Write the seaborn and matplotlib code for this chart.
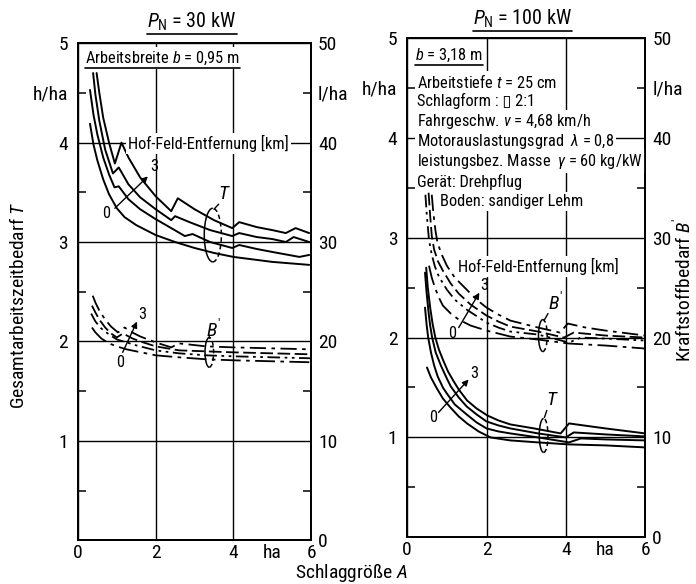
import seaborn as sns
import matplotlib.pyplot as plt
from matplotlib.patches import Arc
from matplotlib.lines import Line2D
from matplotlib import font_manager

# Hof-Feld-Entfernung in km
km = ['0', '1', '2', '3']

# P_N = 30 kW: Gesamtarbeitszeitbedarf T [h/ha] over Schlaggroesse A [ha]
t30_x = {
    '3': [0.48, 0.55, 0.65, 0.8, 0.95, 1.12, 1.3, 1.6, 2.0, 2.4, 2.57, 3.0, 3.5, 3.97, 4.15, 4.6, 5.0, 5.35, 5.6, 5.95],
    '2': [0.39, 0.45, 0.55, 0.7, 0.9, 1.05, 1.3, 1.6, 2.0, 2.4, 2.5, 2.87, 3.4, 3.97, 4.15, 4.6, 5.0, 5.35, 5.55, 5.95],
    '1': [0.31, 0.4, 0.5, 0.65, 0.8, 0.94, 1.05, 1.3, 1.6, 2.0, 2.4, 2.75, 2.95, 3.4, 3.97, 4.15, 4.6, 5.0, 5.7, 5.95],
    '0': [0.31, 0.4, 0.5, 0.65, 0.8, 1.0, 1.2, 1.5, 2.0, 2.5, 3.0, 3.5, 4.0, 5.0, 5.95],
}
t30_y = {
    '3': [4.70, 4.50, 4.25, 4.00, 3.79, 4.00, 3.85, 3.65, 3.46, 3.31, 3.44, 3.33, 3.22, 3.14, 3.20, 3.15, 3.12, 3.09, 3.14, 3.09],
    '2': [4.70, 4.48, 4.22, 3.93, 3.69, 3.75, 3.58, 3.45, 3.33, 3.22, 3.26, 3.20, 3.12, 3.06, 3.09, 3.05, 3.03, 3.00, 3.05, 3.00],
    '1': [4.53, 4.28, 4.08, 3.85, 3.68, 3.55, 3.56, 3.43, 3.33, 3.23, 3.14, 3.06, 3.08, 3.00, 2.94, 2.97, 2.93, 2.90, 2.85, 2.87],
    '0': [4.19, 3.98, 3.82, 3.63, 3.48, 3.34, 3.25, 3.17, 3.07, 3.00, 2.94, 2.89, 2.85, 2.80, 2.77],
}

# P_N = 30 kW: Kraftstoffbedarf B' [l/ha]
b30_x = {
    '3': [0.38, 0.45, 0.55, 0.7, 0.85, 1.03, 1.2, 1.4, 1.6, 2.0, 2.4, 2.6, 3.3, 4.0, 5.0, 6.0],
    '2': [0.36, 0.45, 0.55, 0.7, 0.85, 1.0, 1.16, 1.4, 1.6, 2.0, 2.6, 3.3, 4.0, 5.0, 6.0],
    '1': [0.34, 0.45, 0.6, 0.8, 1.0, 1.25, 1.5, 2.0, 2.6, 3.3, 4.0, 5.0, 6.0],
    '0': [0.36, 0.45, 0.6, 0.8, 1.0, 1.25, 1.5, 2.0, 2.6, 3.3, 4.0, 5.0, 6.0],
}
b30_y = {
    '3': [24.6, 23.9, 23.1, 22.2, 21.5, 20.9, 21.4, 20.9, 20.5, 19.9, 19.4, 19.8, 19.5, 19.4, 19.3, 19.2],
    '2': [23.6, 22.9, 22.2, 21.4, 20.8, 20.4, 20.8, 20.3, 20.0, 19.5, 19.1, 19.0, 18.9, 18.8, 18.7],
    '1': [22.8, 22.0, 21.3, 20.7, 20.2, 19.9, 19.6, 19.1, 18.8, 18.6, 18.5, 18.4, 18.3],
    '0': [21.4, 20.9, 20.3, 19.8, 19.5, 19.2, 19.0, 18.6, 18.4, 18.2, 18.1, 18.0, 17.9],
}

# P_N = 100 kW: T [h/ha]
t100_x = {
    '3': [0.48, 0.52, 0.58, 0.64, 0.71, 0.8, 0.91, 1.03, 1.16, 1.3, 1.51, 1.75, 2.02, 2.3, 2.6, 3.2, 3.87, 4.08, 5.0, 6.0],
    '2': [0.45, 0.49, 0.54, 0.58, 0.63, 0.72, 0.85, 1.0, 1.1, 1.3, 1.5, 1.75, 2.0, 2.3, 2.6, 3.3, 4.0, 4.2, 5.0, 6.0],
    '1': [0.45, 0.49, 0.53, 0.6, 0.68, 0.77, 0.9, 1.0, 1.2, 1.5, 1.75, 2.0, 2.3, 2.6, 3.3, 4.08, 4.38, 5.0, 6.0],
    '0': [0.5, 0.6, 0.75, 0.9, 1.09, 1.3, 1.51, 1.8, 2.1, 2.6, 3.3, 4.08, 5.0, 6.0],
}
t100_y = {
    '3': [2.70, 2.50, 2.30, 2.14, 2.00, 1.88, 1.77, 1.66, 1.57, 1.48, 1.37, 1.29, 1.22, 1.17, 1.13, 1.09, 1.04, 1.14, 1.09, 1.04],
    '2': [2.65, 2.45, 2.25, 2.12, 2.00, 1.85, 1.72, 1.59, 1.51, 1.40, 1.31, 1.23, 1.16, 1.12, 1.09, 1.04, 1.00, 1.05, 1.03, 1.01],
    '1': [2.30, 2.13, 2.00, 1.85, 1.72, 1.61, 1.50, 1.44, 1.33, 1.23, 1.15, 1.09, 1.06, 1.04, 1.00, 0.95, 0.99, 0.98, 0.97],
    '0': [1.70, 1.60, 1.49, 1.39, 1.30, 1.21, 1.14, 1.06, 1.00, 0.97, 0.95, 0.93, 0.92, 0.90],
}

# P_N = 100 kW: B' [l/ha]
b100_x = {
    '3': [0.62, 0.66, 0.71, 0.76, 0.85, 1.0, 1.2, 1.5, 1.75, 2.0, 2.3, 2.6, 3.3, 3.85, 4.05, 4.5, 5.0, 6.0],
    '2': [0.54, 0.58, 0.62, 0.68, 0.78, 0.9, 1.1, 1.3, 1.6, 2.0, 2.3, 2.6, 3.3, 3.95, 4.2, 5.0, 6.0],
    '1': [0.46, 0.5, 0.55, 0.62, 0.7, 0.8, 1.0, 1.2, 1.5, 2.0, 2.3, 2.6, 3.3, 4.08, 4.38, 5.0, 6.0],
    '0': [0.55, 0.62, 0.7, 0.8, 0.9, 1.1, 1.3, 1.6, 2.0, 2.6, 3.3, 4.08, 5.0, 6.0],
}
b100_y = {
    '3': [34.3, 32.5, 30.8, 29.6, 28.5, 27.2, 26.0, 24.8, 23.8, 23.0, 22.3, 21.7, 21.0, 20.5, 21.4, 21.0, 20.7, 20.2],
    '2': [34.5, 32.2, 30.2, 28.8, 27.6, 26.7, 25.4, 24.4, 23.3, 22.2, 21.6, 21.1, 20.6, 20.0, 20.5, 20.2, 20.0],
    '1': [34.3, 32.0, 29.8, 28.3, 27.1, 26.1, 24.8, 23.8, 22.8, 21.5, 21.0, 20.6, 20.3, 19.5, 20.0, 19.9, 19.7],
    '0': [27.2, 26.0, 25.0, 24.0, 23.2, 22.4, 21.8, 21.2, 20.7, 20.1, 19.8, 19.4, 19.2, 18.9],
}

b_dashes = {
    '3': (0, (9, 3, 2, 3)),
    '2': (0, (7, 2.5)),
    '1': (0, (7, 2.5, 1.5, 2.5, 1.5, 2.5)),
    '0': (0, (11, 3, 2, 3)),
}

sns.set_style("white", {"axes.edgecolor": "black", "text.color": "black",
                        "xtick.color": "black", "ytick.color": "black",
                        "axes.labelcolor": "black"})
# narrow DIN-like lettering of the original: take the narrowest family available
avail = {f.name for f in font_manager.fontManager.ttflist}
base = next((f for f in ['Liberation Sans Narrow', 'DejaVu Sans Condensed', 'Roboto Condensed',
                         'Liberation Sans', 'Roboto'] if f in avail), 'DejaVu Sans')
plt.rcParams['font.family'] = [base, 'DejaVu Sans']
plt.rcParams['mathtext.fontset'] = 'custom'
plt.rcParams['mathtext.rm'] = base
plt.rcParams['mathtext.it'] = base + ':italic'

fig = plt.figure(figsize=(6.96, 5.84), dpi=100)
ax_l = fig.add_axes([0.112, 0.075, 0.335, 0.851])
ax_r = fig.add_axes([0.585, 0.080, 0.342, 0.855])

TICK = 14
TXT = 11.8


def setup(ax):
    ax.set_xlim(0, 6)
    ax.set_ylim(0, 5)
    ax.set_xticks([0, 2, 4, 6])
    ax.set_xticks([1, 3, 5], labels=['', '', 'ha'], minor=True)
    ax.set_yticks([0, 1, 2, 3, 4, 5], labels=['', '1', '2', '3', '4', '5'])
    ax.set_yticks([0.5, 1.5, 2.5, 3.5, 4.5], labels=['', '', '', '', 'h/ha'], minor=True)
    ax.tick_params(which='major', length=0, labelsize=TICK, pad=7)
    ax.tick_params(which='minor', direction='in', length=6, width=1.1, labelsize=TICK, pad=7)
    ax.tick_params(axis='x', which='both', pad=3)
    ax.grid(True, which='major', color='black', lw=1.0)
    ax.set_axisbelow(True)
    for s in ax.spines.values():
        s.set_linewidth(1.3)
    ax2 = ax.twinx()
    ax2.set_ylim(0, 50)
    ax2.set_yticks(range(0, 51, 10))
    ax2.set_yticks([5, 15, 25, 35, 45], labels=['', '', '', '', 'l/ha'], minor=True)
    ax2.tick_params(which='major', length=0, labelsize=TICK, pad=5)
    ax2.tick_params(which='minor', direction='in', length=6, width=1.1, labelsize=TICK, pad=5)
    ax2.grid(False)
    for s in ax2.spines.values():
        s.set_linewidth(1.3)
    return ax2


def curves(ax, ax2, tx, ty, bx, by):
    for k in km:
        sns.lineplot(x=tx[k], y=ty[k], ax=ax, color='black', lw=1.4, sort=False)
        sns.lineplot(x=bx[k], y=by[k], ax=ax2, color='black', lw=1.3,
                     linestyle=b_dashes[k], sort=False)


def ellipse(ax, cx, cy, w, h):
    ax.add_patch(Arc((cx, cy), w, h, theta1=90, theta2=270, color='black', lw=1.1))
    ax.add_patch(Arc((cx, cy), w, h, theta1=270, theta2=90, color='black', lw=1.1,
                     linestyle=(0, (3, 2))))


def arrow(ax, p0, p1):
    ax.annotate('', xy=p1, xytext=p0,
                arrowprops=dict(arrowstyle='-|>', color='black', lw=1.0,
                                mutation_scale=9, shrinkA=0, shrinkB=0))


def leader(ax, p0, p1):
    ax.annotate('', xy=p1, xytext=p0,
                arrowprops=dict(arrowstyle='-', color='black', lw=1.0, shrinkA=0, shrinkB=0))


white = dict(facecolor='white', edgecolor='none', pad=1.5)

# ---- left panel, 30 kW
l2 = setup(ax_l)
curves(ax_l, l2, t30_x, t30_y, b30_x, b30_y)
t_arb = ax_l.text(0.18, 4.85, r'Arbeitsbreite $b$ = 0,95 m', fontsize=TXT, va='center', bbox=white)
ax_l.text(1.28, 3.99, 'Hof-Feld-Entfernung [km]', fontsize=TXT, va='center', bbox=white)
ax_l.text(0.62, 3.29, '0', fontsize=TXT, va='center')
ax_l.text(1.85, 3.76, '3', fontsize=TXT, va='center')
arrow(ax_l, (0.95, 3.34), (1.8, 3.66))
ax_l.text(3.6, 3.48, '$T$', fontsize=14, va='center')
leader(ax_l, (3.62, 3.38), (3.5, 3.33))
ellipse(ax_l, 3.47, 3.07, 0.44, 0.54)
ax_l.text(0.98, 1.79, '0', fontsize=TXT, va='center')
ax_l.text(1.55, 2.27, '3', fontsize=TXT, va='center')
arrow(ax_l, (1.15, 1.89), (1.52, 2.2))
ax_l.text(3.3, 2.12, "$B'$", fontsize=14, va='center')
leader(ax_l, (3.38, 2.03), (3.38, 2.05))
ellipse(ax_l, 3.38, 1.89, 0.22, 0.3)

# ---- right panel, 100 kW
r2 = setup(ax_r)
curves(ax_r, r2, t100_x, t100_y, b100_x, b100_y)
t_b = ax_r.text(0.2, 4.83, r'$b$ = 3,18 m', fontsize=TXT, va='center', bbox=white)
info = [
    (4.56, r'Arbeitstiefe $t$ = 25 cm', 0.25),
    (4.37, 'Schlagform : \u25af 2:1', 0.25),
    (4.16, r'Fahrgeschw. $v$ = 4,68 km/h', 0.25),
    (3.96, r'Motorauslastungsgrad  $\lambda$ = 0,8', 0.25),
    (3.76, r'leistungsbez. Masse  $\gamma$ = 60 kg/kW', 0.25),
    (3.56, 'Gerät: Drehpflug', 0.25),
    (3.36, 'Boden: sandiger Lehm', 0.84),
]
for yy, s, xx in info:
    ax_r.text(xx, yy, s, fontsize=TXT, va='center', bbox=white)
ax_r.text(1.27, 2.71, 'Hof-Feld-Entfernung [km]', fontsize=TXT, va='center', bbox=white)
ax_r.text(1.02, 2.04, '0', fontsize=TXT, va='center')
ax_r.text(1.84, 2.52, '3', fontsize=TXT, va='center')
arrow(ax_r, (1.3, 2.1), (1.82, 2.45))
ax_r.text(3.55, 2.35, "$B'$", fontsize=14, va='center')
leader(ax_r, (3.55, 2.24), (3.45, 2.17))
ellipse(ax_r, 3.42, 2.02, 0.22, 0.32)
ax_r.text(0.56, 1.2, '0', fontsize=TXT, va='center')
ax_r.text(1.6, 1.64, '3', fontsize=TXT, va='center')
arrow(ax_r, (0.79, 1.25), (1.55, 1.58))
ax_r.text(3.5, 1.37, '$T$', fontsize=14, va='center')
leader(ax_r, (3.52, 1.27), (3.46, 1.2))
ellipse(ax_r, 3.44, 1.02, 0.22, 0.34)

# titles and axis labels
tt_l = fig.text(0.276, 0.962, r'$P_\mathrm{N}$ = 30 kW', fontsize=14.5, ha='center', va='center')
tt_r = fig.text(0.751, 0.968, r'$P_\mathrm{N}$ = 100 kW', fontsize=14.5, ha='center', va='center')
fig.text(0.026, 0.478, 'Gesamtarbeitszeitbedarf $T$', fontsize=14, rotation=90, ha='center', va='center')
fig.text(0.981, 0.503, "Kraftstoffbedarf $B'$", fontsize=14, rotation=90, ha='center', va='center')
fig.text(0.505, 0.018, 'Schlaggröße $A$', fontsize=14, ha='center', va='center')

# underlines
fig.canvas.draw()
rend = fig.canvas.get_renderer()
inv = fig.transFigure.inverted()
for t in [t_arb, t_b, tt_l, tt_r]:
    bb = t.get_window_extent(renderer=rend)
    (x0, y0), (x1, _) = inv.transform([(bb.x0, bb.y0 - 1), (bb.x1, bb.y0)])
    fig.add_artist(Line2D([x0, x1], [y0, y0], transform=fig.transFigure, color='black', lw=1.2))

fig.savefig('out.png', dpi=100)
